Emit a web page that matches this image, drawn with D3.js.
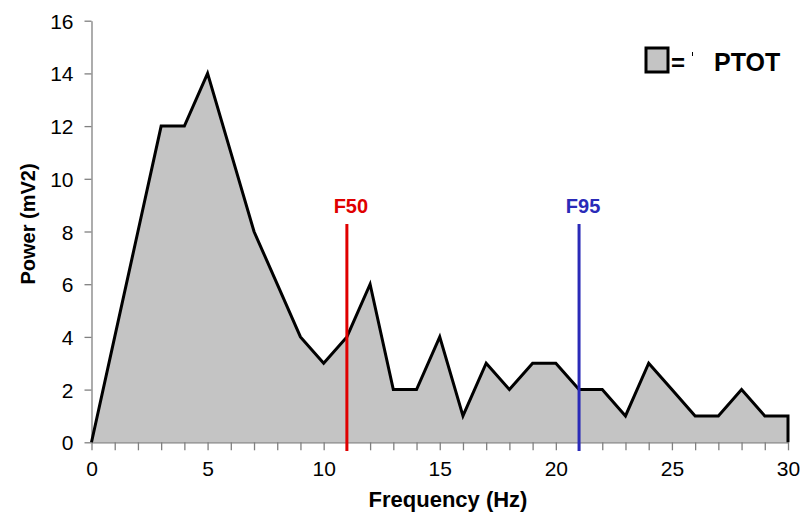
<!DOCTYPE html>
<html>
<head>
<meta charset="utf-8">
<script src="https://cdn.jsdelivr.net/npm/d3@7"></script>
<style>
  body { margin: 0; background: #fff; }
  svg { display: block; font-family: "Liberation Sans", Arial, sans-serif; }
</style>
</head>
<body>
<svg width="803" height="517"></svg>
<script>
var freq = [0, 1, 2, 3, 4, 5, 6, 7, 8, 9, 10, 11, 12, 13, 14, 15, 16, 17, 18, 19, 20, 21, 22, 23, 24, 25, 26, 27, 28, 29, 30, 30];
var power = [0, 4, 8, 12, 12, 14, 11, 8, 6, 4, 3, 4, 6, 2, 2, 4, 1, 3, 2, 3, 3, 2, 2, 1, 3, 2, 1, 1, 2, 1, 1, 0];
var xTicks = [0, 5, 10, 15, 20, 25, 30];
var yTicks = [0, 2, 4, 6, 8, 10, 12, 14, 16];
var markers = [
  { name: "F50", f: 11, color: "#e00000" },
  { name: "F95", f: 21, color: "#2a2ab8" }
];

var svg = d3.select("svg"),
    plotLeft = 91.5, plotRight = 788, plotTop = 20.7, plotBottom = 442.3;

var xScale = d3.scaleLinear().domain([0, 30]).range([plotLeft, plotRight]),
    yScale = d3.scaleLinear().domain([0, 16]).range([plotBottom, plotTop]);

var pts = freq.map(function(f, i) { return [f, power[i]]; });

// filled area
svg.append("path")
   .datum(pts)
   .attr("fill", "#c4c4c4")
   .attr("d", d3.area()
       .x(function(d) { return xScale(d[0]); })
       .y0(yScale(0))
       .y1(function(d) { return yScale(d[1]); }));

// axes
var xAxis = svg.append("g")
   .attr("transform", "translate(0," + plotBottom + ")")
   .call(d3.axisBottom(xScale).tickValues(d3.range(0, 31)).tickSize(8).tickSizeOuter(0)
       .tickFormat(function(d) { return xTicks.indexOf(d) >= 0 ? d : ""; }));

var yAxis = svg.append("g")
   .attr("transform", "translate(" + plotLeft + ",0)")
   .call(d3.axisLeft(yScale).tickValues(yTicks).tickSize(7).tickSizeOuter(0));

[xAxis, yAxis].forEach(function(a) {
  a.selectAll("path, line").attr("stroke", "#808080").attr("stroke-width", 1.3);
  a.selectAll("text").attr("font-size", "21px").attr("fill", "#000")
   .attr("font-family", "Liberation Sans, Arial, sans-serif");
});
xAxis.selectAll("text").attr("y", 34).attr("dy", null);
yAxis.selectAll("text").attr("x", -18).attr("dy", "0.36em");

// outline
svg.append("path")
   .datum(pts)
   .attr("fill", "none")
   .attr("stroke", "#000")
   .attr("stroke-width", 3)
   .attr("stroke-linejoin", "miter")
   .attr("d", d3.line()
       .x(function(d) { return xScale(d[0]); })
       .y(function(d) { return yScale(d[1]); }));

// F50 / F95 markers
markers.forEach(function(m) {
  svg.append("line")
     .attr("x1", xScale(m.f)).attr("x2", xScale(m.f))
     .attr("y1", 224).attr("y2", 451)
     .attr("stroke", m.color)
     .attr("stroke-width", 3);
  svg.append("text")
     .attr("x", xScale(m.f) + 4)
     .attr("y", 213)
     .attr("text-anchor", "middle")
     .attr("font-size", "20px")
     .attr("font-weight", "bold")
     .attr("fill", m.color)
     .text(m.name);
});

// axis titles
svg.append("text")
   .attr("x", 448)
   .attr("y", 507)
   .attr("text-anchor", "middle")
   .attr("font-size", "22px")
   .attr("font-weight", "bold")
   .text("Frequency (Hz)");

svg.append("text")
   .attr("transform", "translate(35,224) rotate(-90)")
   .attr("text-anchor", "middle")
   .attr("font-size", "20px")
   .attr("font-weight", "bold")
   .text("Power (mV2)");

// legend
var lg = svg.append("g");
lg.append("rect")
  .attr("x", 646).attr("y", 48).attr("width", 22).attr("height", 24)
  .attr("fill", "#c4c4c4").attr("stroke", "#000").attr("stroke-width", 3);
lg.append("text")
  .attr("x", 671).attr("y", 71)
  .attr("font-size", "24px").attr("font-weight", "bold")
  .text("=");
lg.append("line")
  .attr("x1", 692.5).attr("x2", 692.5).attr("y1", 52).attr("y2", 56)
  .attr("stroke", "#000").attr("stroke-width", 1);
lg.append("text")
  .attr("x", 714).attr("y", 71)
  .attr("font-size", "25px").attr("font-weight", "bold")
  .text("PTOT");
</script>
</body>
</html>
